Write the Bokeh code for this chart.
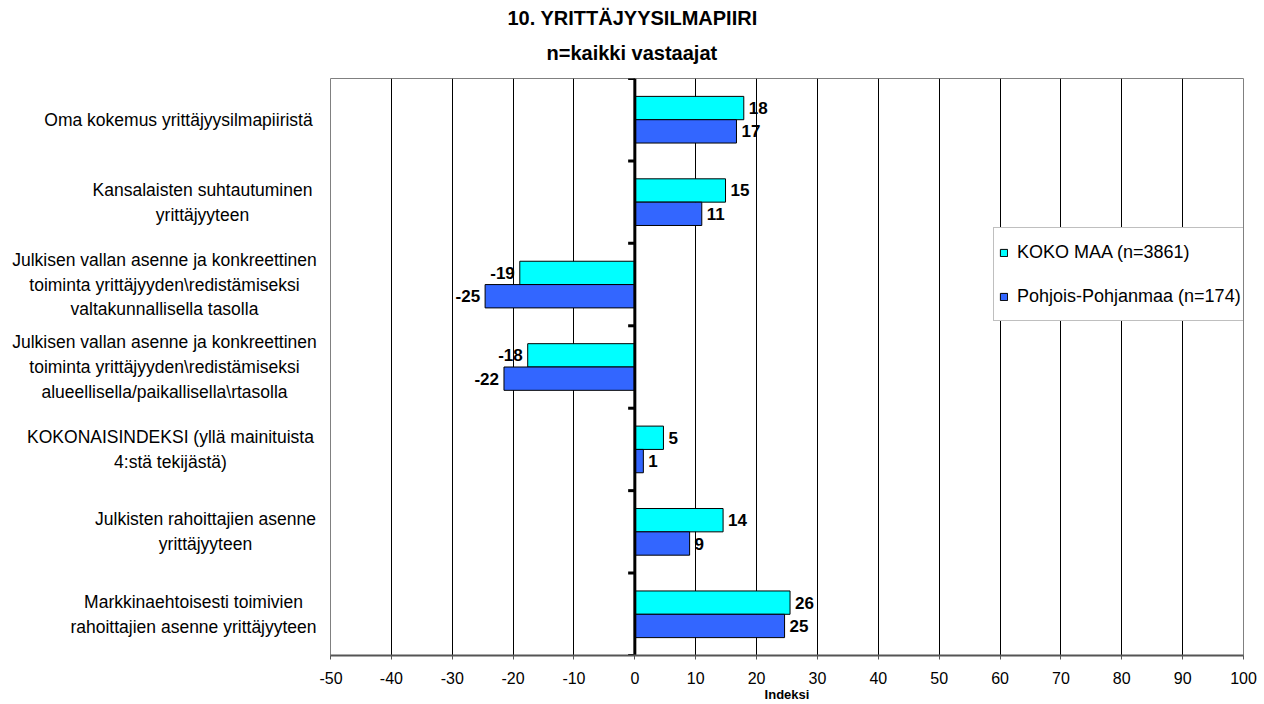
from bokeh.plotting import figure
from bokeh.models import ColumnDataSource, Range1d, FixedTicker, Title, Legend, LegendItem
from bokeh.layouts import row
from bokeh.core.properties import value
from bokeh.embed import file_html
from bokeh.resources import INLINE

categories = [
    "Oma kokemus yrittäjyysilmapiiristä",
    "Kansalaisten suhtautuminen\nyrittäjyyteen",
    "Julkisen vallan asenne ja konkreettinen\ntoiminta yrittäjyyden\\redistämiseksi\nvaltakunnallisella tasolla",
    "Julkisen vallan asenne ja konkreettinen\ntoiminta yrittäjyyden\\redistämiseksi\nalueellisella/paikallisella\\rtasolla",
    "KOKONAISINDEKSI (yllä mainituista\n4:stä tekijästä)",
    "Julkisten rahoittajien asenne\nyrittäjyyteen",
    "Markkinaehtoisesti toimivien\nrahoittajien asenne yrittäjyyteen",
]
koko_maa = [17.9, 14.9, -18.9, -17.6, 4.7, 14.5, 25.5]
pohjois = [16.7, 11.0, -24.6, -21.5, 1.4, 9.0, 24.6]
series_names = ["KOKO MAA (n=3861)", "Pohjois-Pohjanmaa (n=174)"]
x_ticks = [-50, -40, -30, -20, -10, 0, 10, 20, 30, 40, 50, 60, 70, 80, 90, 100]
title_lines = ["10. YRITTÄJYYSILMAPIIRI", "n=kaikki vastaajat"]
x_title = "Indeksi"

# layout constants
label_centers_px = [178, 202, 164, 164, 170, 205, 193]  # x centre of each category label block
FONT = "Liberation Sans"
BAR_H = 0.283
LEFT_W = 319
GAP = 330 - LEFT_W
TOP, BOTTOM = 78, 49
n = len(categories)

yr = Range1d(n, 0)

# ---- left panel with the category labels ----
lp = figure(frame_width=LEFT_W, frame_height=577, min_border_left=0, min_border_right=0,
            min_border_top=TOP, min_border_bottom=BOTTOM,
            x_range=Range1d(0, LEFT_W), y_range=yr,
            x_axis_location=None, y_axis_location=None,
            output_backend="svg", toolbar_location=None,
            background_fill_color="white", border_fill_color="white")
lp.outline_line_color = None
lp.grid.visible = False
lp.text(x=label_centers_px, y=[i + 0.5 for i in range(n)], text=categories,
        text_align="center", text_baseline="middle", text_font=value(FONT),
        text_font_size="17.5px", text_line_height=1.24, text_color="#000000")

# ---- main chart ----
p = figure(frame_width=913, frame_height=577, min_border_left=GAP, min_border_top=TOP,
           min_border_right=15, min_border_bottom=BOTTOM,
           x_range=Range1d(x_ticks[0], x_ticks[-1]), y_range=yr,
           y_axis_location=None,
           output_backend="svg", toolbar_location=None,
           background_fill_color="white", border_fill_color="white")
p.outline_line_color = "#808080"
p.outline_line_width = 1

p.xaxis.ticker = FixedTicker(ticks=x_ticks)
p.xaxis.major_label_overrides = {t: str(t) for t in x_ticks}
p.xgrid.ticker = FixedTicker(ticks=x_ticks)
p.xgrid.grid_line_color = "#000000"
p.xgrid.grid_line_width = 1
p.ygrid.visible = False
p.xaxis.axis_line_color = "#555555"
p.xaxis.axis_line_width = 2
p.xaxis.major_tick_line_color = "#555555"
p.xaxis.major_tick_in = 0
p.xaxis.major_tick_out = 4
p.xaxis.minor_tick_line_color = None
p.xaxis.major_label_text_font = FONT
p.xaxis.major_label_text_font_size = "16px"
p.xaxis.major_label_text_color = "#000000"
p.xaxis.major_label_standoff = 12
p.xaxis.axis_label = x_title
p.xaxis.axis_label_text_font = FONT
p.xaxis.axis_label_text_font_size = "13px"
p.xaxis.axis_label_text_font_style = "bold"
p.xaxis.axis_label_text_color = "#000000"
p.xaxis.axis_label_standoff = 0

ycent = [i + 0.5 for i in range(n)]
src = ColumnDataSource(dict(
    y1=[c - BAR_H / 2 for c in ycent],
    y2=[c + BAR_H / 2 for c in ycent],
    a=koko_maa, b=pohjois,
))
r1 = p.hbar(y="y1", height=BAR_H, left=0, right="a", source=src,
            fill_color="#00FFFF", line_color="#000000", line_width=1)
r2 = p.hbar(y="y2", height=BAR_H, left=0, right="b", source=src,
            fill_color="#3366FF", line_color="#000000", line_width=1)

# zero axis with category boundary ticks
p.segment(x0=[0], x1=[0], y0=[0], y1=[n], line_color="#000000", line_width=3)
p.segment(x0=[-1.1] * (n + 1), x1=[0] * (n + 1), y0=list(range(n + 1)), y1=list(range(n + 1)),
          line_color="#000000", line_width=3)

# value labels
for vals, ys in ((koko_maa, "y1"), (pohjois, "y2")):
    yv = src.data[ys]
    pos = dict(x=[v for v in vals if v >= 0], y=[y for v, y in zip(vals, yv) if v >= 0],
               t=[str(round(v)) for v in vals if v >= 0])
    neg = dict(x=[v for v in vals if v < 0], y=[y for v, y in zip(vals, yv) if v < 0],
               t=[str(round(v)) for v in vals if v < 0])
    p.text(x="x", y="y", text="t", source=ColumnDataSource(pos), x_offset=5,
           text_align="left", text_baseline="middle", text_font=value(FONT),
           text_font_size="17px", text_font_style="bold", text_color="#000000")
    p.text(x="x", y="y", text="t", source=ColumnDataSource(neg), x_offset=-5,
           text_align="right", text_baseline="middle", text_font=value(FONT),
           text_font_size="17px", text_font_style="bold", text_color="#000000")

# titles (first added is nearest to the plot)
p.add_layout(Title(text=title_lines[1], align="left", offset=216, text_font=FONT,
                   text_font_size="20px", text_font_style="bold", text_color="#000000",
                   standoff=29), "above")
p.add_layout(Title(text=title_lines[0], align="left", offset=177, text_font=FONT,
                   text_font_size="20px", text_font_style="bold", text_color="#000000",
                   standoff=-7), "above")

legend = Legend(items=[LegendItem(label=series_names[0], renderers=[r1]),
                       LegendItem(label=series_names[1], renderers=[r2])],
                location=(663, 334), orientation="vertical",
                glyph_width=9, glyph_height=9, label_standoff=9, padding=5, spacing=6,
                label_height=38, label_text_font=FONT, label_text_font_size="18px",
                label_text_color="#000000",
                border_line_color="#808080", border_line_width=1,
                background_fill_color="white", background_fill_alpha=1.0, margin=0)
p.add_layout(legend)

open("out.html", "w").write(file_html(row(lp, p), INLINE))
